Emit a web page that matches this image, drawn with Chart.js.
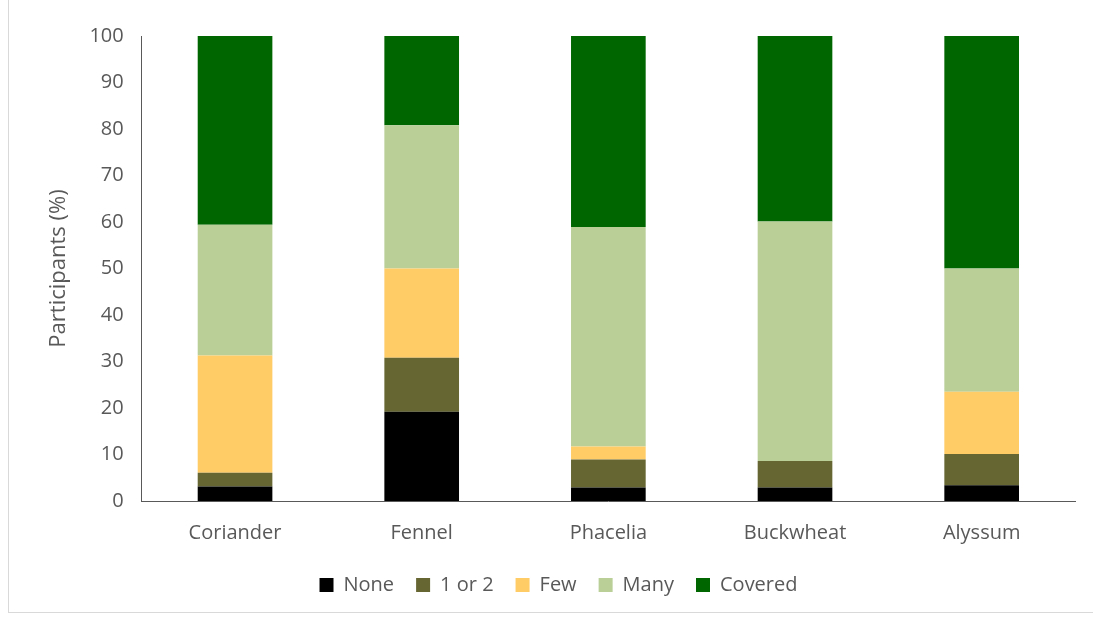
<!DOCTYPE html>
<html>
<head>
<meta charset="utf-8">
<script src="https://cdn.jsdelivr.net/npm/chart.js@4.4.1/dist/chart.umd.min.js"></script>
<style>
  html, body { margin: 0; padding: 0; background: #fff; }
  #wrap {
    position: absolute; left: 8px; top: -2px; width: 1084px; height: 614px;
    border-left: 1px solid #d9d9d9; border-bottom: 1px solid #d9d9d9;
  }
</style>
</head>
<body>
<div id="wrap"><canvas id="chart"></canvas></div>
<script>
// categories and series (percent of participants)
const plants   = ['Coriander', 'Fennel', 'Phacelia', 'Buckwheat', 'Alyssum'];
const none     = [3.1, 19.2, 2.9, 2.9, 3.4];
const oneOrTwo = [3.0, 11.6, 6.0, 5.7, 6.7];
const few      = [25.2, 19.2, 2.8, 0, 13.4];
const many     = [28.1, 30.8, 47.2, 51.5, 26.5];
const covered  = [40.6, 19.2, 41.1, 39.9, 50.0];

const seriesNames  = ['None', '1 or 2', 'Few', 'Many', 'Covered'];
const seriesData   = [none, oneOrTwo, few, many, covered];
const seriesColors = ['#000000', '#666633', '#ffcc66', '#b9cf97', '#006600'];

const textColor = '#595959';
const fontFamily = '"Open Sans", "Noto Sans", sans-serif';

new Chart(document.getElementById('chart'), {
  type: 'bar',
  data: {
    labels: plants,
    datasets: seriesNames.map((name, i) => ({
      label: name,
      data: seriesData[i],
      backgroundColor: seriesColors[i],
      borderWidth: 0,
      categoryPercentage: 1.0,
      barPercentage: 0.4
    }))
  },
  options: {
    responsive: true,
    maintainAspectRatio: false,
    animation: false,
    layout: { padding: { left: 33, right: 18, top: 38, bottom: 7 } },
    plugins: {
      tooltip: { enabled: false },
      legend: {
        position: 'bottom',
        labels: {
          color: textColor,
          font: { family: fontFamily, size: 20 },
          boxWidth: 14,
          boxHeight: 14,
          padding: 22
        }
      }
    },
    scales: {
      x: {
        stacked: true,
        grid: { display: false, drawTicks: false },
        border: { color: '#595959', width: 1 },
        ticks: { color: textColor, font: { family: fontFamily, size: 20 }, padding: 20 },
        afterFit: (scale) => { scale.height -= 12; }
      },
      y: {
        stacked: true,
        min: 0,
        max: 100,
        grid: { display: false, drawTicks: false },
        border: { color: '#595959', width: 1 },
        ticks: { stepSize: 10, color: textColor, font: { family: fontFamily, size: 20 }, padding: 18 },
        title: {
          display: true,
          text: 'Participants (%)',
          color: textColor,
          font: { family: fontFamily, size: 22 },
          padding: { top: 4, bottom: 6 }
        },
        afterFit: (scale) => { scale.width -= 7; }
      }
    }
  }
});
</script>
</body>
</html>
